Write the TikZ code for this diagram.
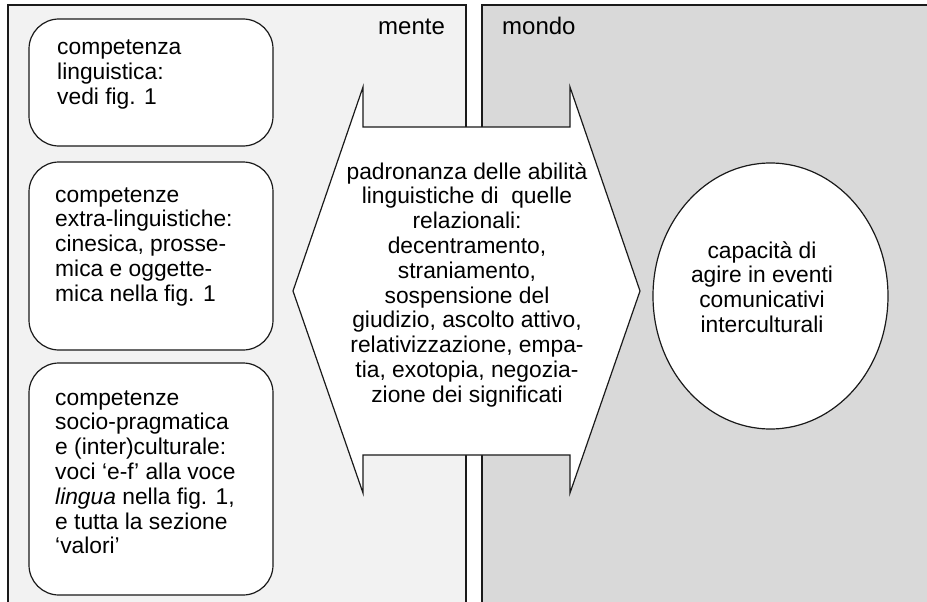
\documentclass[tikz,border=0pt]{standalone}
\usepackage{fontspec}
\setmainfont{Liberation Sans}
\usetikzlibrary{shapes.geometric}
\definecolor{menteBg}{HTML}{F2F2F2}
\definecolor{mondoBg}{HTML}{D9D9D9}
\definecolor{edge}{HTML}{1A1A1A}
\newcommand\linesL[1]{\begin{tabular}[t]{@{}l@{}}#1\end{tabular}}
\newcommand\linesC[1]{\begin{tabular}[t]{@{}c@{}}#1\end{tabular}}
\tikzset{
  panel/.style={draw=edge, line width=1.2pt},
  compbox/.style={draw=edge, fill=white, line width=1.2pt, rounded corners=30pt},
  txt/.style={inner sep=0pt, font=\fontsize{22.8}{24.8}\selectfont},
  head/.style={inner sep=0pt, font=\fontsize{24}{26}\selectfont},
}
\begin{document}
\begin{tikzpicture}[x=1pt,y=-1pt]
\useasboundingbox (0,0) rectangle (927,602);
\begin{scope}
\clip (0,0) rectangle (927,602);
\fill[white] (0,0) rectangle (927,602);
% panels
\draw[panel, fill=menteBg] (8,610) -- (8,5) -- (466,5) -- (466,610);
\fill[mondoBg] (482,5) rectangle (935,610);
\draw[panel] (482,610) -- (482,5) -- (935,5);
% double arrow
\draw[panel, fill=white] (363,127) -- (363,87) -- (293,291) -- (363,493) -- (363,455)
  -- (570,455) -- (570,493) -- (640,291) -- (570,87) -- (570,127) -- cycle;
\end{scope}
\node[head, anchor=base west] (mente) at (378,35) {mente};
\node[head, anchor=base west] (mondo) at (502,35) {mondo};
% boxes
\draw[compbox] (29,19) rectangle (273,146);
\draw[compbox] (29,162) rectangle (273,350);
\draw[compbox] (29,363) rectangle (273,595);
\node[txt, anchor=base west] (c1) at (57,55) {\linesL{competenza\\linguistica:\\vedi fig. 1}};
\node[txt, anchor=base west] (c2) at (55,202) {\linesL{competenze\\extra-linguistiche:\\cinesica, prosse-\\mica e oggette-\\mica nella fig. 1}};
\node[txt, anchor=base west] (c3) at (55,405) {\linesL{competenze\\socio-pragmatica\\e (inter)culturale:\\voci ‘e-f’ alla voce\\\textit{lingua} nella fig. 1,\\e tutta la sezione\\‘valori’}};
\node[txt, anchor=base] (mid) at (467,179) {\linesC{padronanza delle abilità\\linguistiche di~ quelle\\relazionali:\\decentramento,\\straniamento,\\sospensione del\\giudizio, ascolto attivo,\\relativizzazione, empa-\\tia, exotopia, negozia-\\zione dei significati}};
\node[ellipse, draw=edge, fill=white, line width=1.2pt, minimum width=235pt, minimum height=266pt, inner sep=0pt] (goal) at (770.5,296) {};
\node[txt, anchor=base] (goaltxt) at (762,258) {\linesC{capacità di\\agire in eventi\\comunicativi\\interculturali}};
\end{tikzpicture}
\end{document}
